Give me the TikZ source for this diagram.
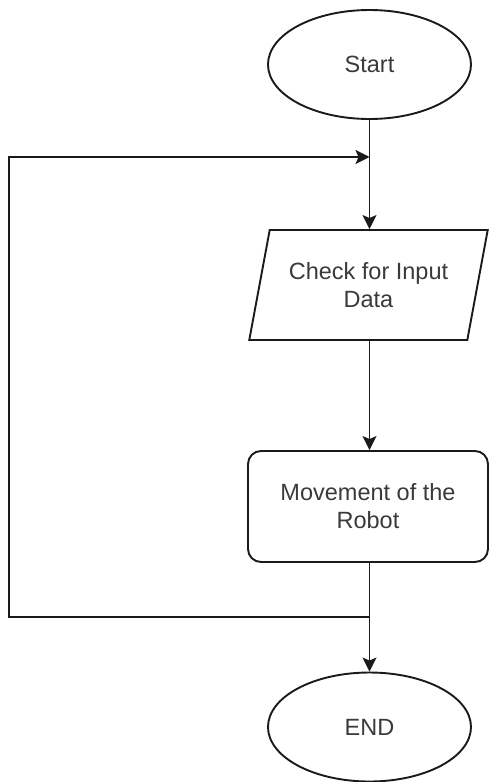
\documentclass[tikz,border=0pt]{standalone}
\usepackage{fontspec}
\setmainfont{Liberation Sans}
\usetikzlibrary{shapes.geometric,arrows.meta}
\definecolor{lineclr}{HTML}{1A1A1A}
\definecolor{txtclr}{HTML}{3A3A3A}
\tikzset{
  every node/.style={font=\fontsize{23.5}{28}\selectfont, text=txtclr, align=center, inner sep=0pt},
  shp/.style={draw=lineclr, line width=1.9pt, fill=white},
  term/.style={shp, ellipse, minimum width=203pt, minimum height=109pt},
  io/.style={shp, trapezium, trapezium left angle=70, trapezium right angle=110, trapezium stretches=true, minimum width=239pt, minimum height=110pt},
  proc/.style={shp, rectangle, rounded corners=13pt, minimum width=240pt, minimum height=111pt},
  conn/.style={draw=lineclr, line width=1.9pt},
  arr/.style={conn, -{Stealth[length=14pt,width=14pt,inset=3pt]}}
}
\begin{document}
\begin{tikzpicture}[x=1pt,y=-1pt]
\useasboundingbox (0,0) rectangle (488,782);
\fill[white] (0,0) rectangle (488,782);
\node[term] (start) at (369.5,64.5) {Start};
\node[io] (input) at (368.5,285) {Check for Input\\Data};
\node[proc] (robot) at (368,506.5) {Movement of the\\Robot};
\node[term] (end) at (369.5,727) {END};
\coordinate (jtop) at (369.5,157);
\coordinate (jbot) at (369.5,617);
\coordinate (cbl) at (9,617);
\coordinate (ctl) at (9,157);
\draw[arr] (start.south) -- (start.south |- input.north);
\draw[arr] (input.south -| start.south) -- (start.south |- robot.north);
\draw[arr] (robot.south -| start.south) -- (end.north);
\draw[arr] (jbot) -- (cbl) -- (ctl) -- (jtop);
\end{tikzpicture}
\end{document}
